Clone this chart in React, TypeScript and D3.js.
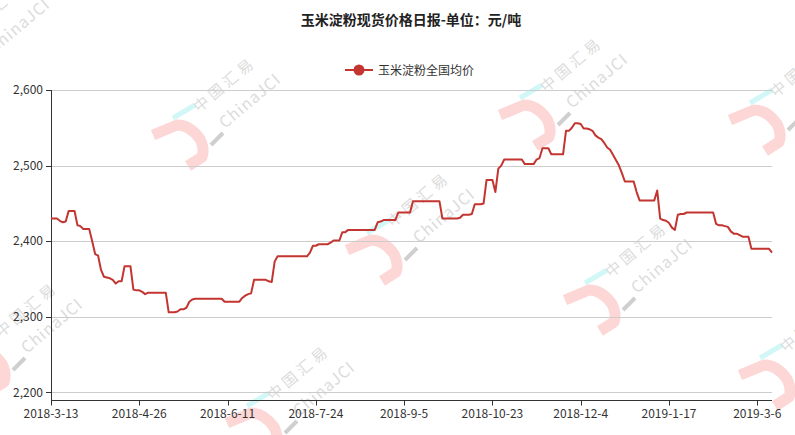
import { useEffect, useRef } from 'react';
import { select, scaleLinear, line, format } from 'd3';

// daily national average price of corn starch (yuan / ton), one value per trading day
const prices = [
  2430, 2430, 2430, 2427, 2425, 2426, 2440, 2440, 2440, 2421,
  2420, 2416, 2416, 2416, 2400, 2383, 2381, 2362, 2353, 2352,
  2351, 2349, 2344, 2347, 2347, 2367, 2367, 2367, 2336, 2335,
  2335, 2333, 2330, 2332, 2332, 2332, 2332, 2332, 2332, 2332,
  2306, 2306, 2306, 2307, 2310, 2310, 2312, 2320, 2323, 2324,
  2324, 2324, 2324, 2324, 2324, 2324, 2324, 2324, 2324, 2320,
  2320, 2320, 2320, 2320, 2320, 2325, 2328, 2330, 2331, 2349,
  2349, 2349, 2349, 2349, 2347, 2346, 2373, 2380, 2380, 2380,
  2380, 2380, 2380, 2380, 2380, 2380, 2380, 2380, 2385, 2394,
  2394, 2396, 2396, 2396, 2396, 2398, 2401, 2401, 2401, 2412,
  2412, 2415, 2415, 2415, 2415, 2415, 2415, 2415, 2415, 2415,
  2415, 2425, 2426, 2428, 2428, 2428, 2428, 2428, 2438, 2438,
  2438, 2438, 2438, 2453, 2453, 2453, 2453, 2453, 2453, 2453,
  2453, 2453, 2453, 2430, 2430, 2430, 2430, 2430, 2430, 2431,
  2435, 2435, 2435, 2436, 2449, 2449, 2449, 2450, 2481, 2481,
  2481, 2465, 2496, 2500, 2508, 2508, 2508, 2508, 2508, 2508,
  2508, 2502, 2502, 2502, 2502, 2508, 2510, 2523, 2523, 2523,
  2515, 2515, 2515, 2515, 2515, 2546, 2546, 2550, 2556, 2556,
  2555, 2549, 2549, 2548, 2546, 2540, 2537, 2535, 2530, 2524,
  2521, 2514, 2507, 2500, 2490, 2479, 2479, 2479, 2479, 2465,
  2454, 2454, 2454, 2454, 2454, 2454, 2467, 2430, 2428, 2427,
  2424, 2418, 2415, 2435, 2436, 2436, 2438, 2438, 2438, 2438,
  2438, 2438, 2438, 2438, 2438, 2438, 2423, 2421, 2421, 2420,
  2419, 2413, 2410, 2410, 2408, 2406, 2406, 2406, 2390, 2390,
  2390, 2390, 2390, 2390, 2390, 2385,
];

// category labels shown on the x axis (every 30th trading day)
const dateLabels = [
  '2018-3-13', '2018-4-26', '2018-6-11', '2018-7-24', '2018-9-5',
  '2018-10-23', '2018-12-4', '2019-1-17', '2019-3-6',
];
const labelInterval = 30;

const yTicks = [2200, 2300, 2400, 2500, 2600];
const yMin = 2190;
const yMax = 2600;

const title = '玉米淀粉现货价格日报-单位：元/吨';
const seriesName = '玉米淀粉全国均价';

// watermark anchor points (top-left of the pink hook)
const watermarks = [
  [153, 125], [347, 240], [227, 413], [-45, 350], [500, 105],
  [730, 110], [565, 290], [740, 365], [-78, 50],
];

const W = 795, H = 435;
const margin = { top: 90, right: 23, bottom: 35, left: 51 };
const FONT = '"Microsoft YaHei", "Noto Sans CJK SC", sans-serif';
const RED = '#c23531';

const App = () => {
  const ref = useRef<SVGSVGElement>(null);

  useEffect(() => {
    const svg = select(ref.current);
    svg.selectAll('*').remove();

    const x = scaleLinear()
      .domain([0, prices.length - 1])
      .range([margin.left, W - margin.right]);
    const y = scaleLinear().domain([yMin, yMax]).range([H - margin.bottom, margin.top]);

    // watermarks
    const wm = svg.append('g').attr('class', 'watermarks');
    watermarks.forEach(([wx, wy]) => {
      const g = wm.append('g').attr('transform', `translate(${wx},${wy})`);
      g.append('path')
        .attr('d', 'M0,10 L24,0 Q37,0 47,14 Q52,24 49,32 L35,41')
        .attr('fill', 'none')
        .attr('stroke', '#fdd6d6')
        .attr('stroke-width', 11)
        .attr('stroke-linejoin', 'round');
      g.append('line')
        .attr('x1', 20).attr('y1', -7).attr('x2', 42).attr('y2', -20)
        .attr('stroke', '#d2f7f7').attr('stroke-width', 5);
      g.append('line')
        .attr('x1', 58).attr('y1', 20).attr('x2', 70).attr('y2', 8)
        .attr('stroke', '#cfcfcf').attr('stroke-width', 4);
      g.append('text')
        .attr('transform', 'translate(46,-12) rotate(-40)')
        .attr('font-family', FONT).attr('font-size', 15)
        .attr('letter-spacing', 4)
        .attr('fill', '#dcdcdc')
        .text('中国汇易');
      g.append('text')
        .attr('transform', 'translate(72,4) rotate(-40)')
        .attr('font-family', FONT).attr('font-size', 16)
        .attr('letter-spacing', 1)
        .attr('fill', '#dcdcdc')
        .text('ChinaJCI');
    });

    // title
    svg.append('text')
      .attr('x', 411).attr('y', 25)
      .attr('text-anchor', 'middle')
      .attr('font-family', FONT).attr('font-size', 14).attr('font-weight', 'bold')
      .attr('fill', '#222')
      .text(title);

    // legend
    const lg = svg.append('g').attr('transform', 'translate(345,70)');
    lg.append('line').attr('x1', 0).attr('x2', 28).attr('y1', 0).attr('y2', 0)
      .attr('stroke', RED).attr('stroke-width', 2);
    lg.append('circle').attr('cx', 14).attr('cy', 0).attr('r', 5.5).attr('fill', RED);
    lg.append('text').attr('x', 33).attr('y', 4.5)
      .attr('font-family', FONT).attr('font-size', 12).attr('fill', '#333')
      .text(seriesName);

    // grid lines
    svg.append('g').selectAll('line').data(yTicks).enter().append('line')
      .attr('x1', margin.left).attr('x2', W - margin.right)
      .attr('y1', d => Math.round(y(d)) + 0.5).attr('y2', d => Math.round(y(d)) + 0.5)
      .attr('stroke', '#ccc').attr('stroke-width', 1);

    // y axis
    const ya = svg.append('g');
    ya.append('line')
      .attr('x1', margin.left + 0.5).attr('x2', margin.left + 0.5)
      .attr('y1', margin.top).attr('y2', H - margin.bottom)
      .attr('stroke', '#333');
    ya.selectAll('line.tick').data(yTicks).enter().append('line')
      .attr('class', 'tick')
      .attr('x1', margin.left - 5).attr('x2', margin.left)
      .attr('y1', d => Math.round(y(d)) + 0.5).attr('y2', d => Math.round(y(d)) + 0.5)
      .attr('stroke', '#333');
    ya.selectAll('text').data(yTicks).enter().append('text')
      .attr('x', margin.left - 8).attr('y', d => y(d))
      .attr('dy', '0.35em')
      .attr('text-anchor', 'end')
      .attr('font-family', FONT).attr('font-size', 12).attr('fill', '#333')
      .text(d => format(',')(d));

    // x axis
    const xa = svg.append('g');
    const base = Math.round(y(yMin)) + 0.5;
    xa.append('line')
      .attr('x1', margin.left).attr('x2', W - margin.right)
      .attr('y1', base).attr('y2', base)
      .attr('stroke', '#333');
    xa.selectAll('line.tick').data(dateLabels).enter().append('line')
      .attr('class', 'tick')
      .attr('x1', (d, i) => Math.round(x(i * labelInterval)) + 0.5)
      .attr('x2', (d, i) => Math.round(x(i * labelInterval)) + 0.5)
      .attr('y1', base).attr('y2', base + 5)
      .attr('stroke', '#333');
    xa.selectAll('text').data(dateLabels).enter().append('text')
      .attr('x', (d, i) => x(i * labelInterval)).attr('y', base + 17)
      .attr('text-anchor', 'middle')
      .attr('font-family', FONT).attr('font-size', 12).attr('fill', '#333')
      .text(d => d);

    // price line
    const path = line<number>()
      .x((d, i) => x(i))
      .y(d => y(d));
    svg.append('path')
      .datum(prices)
      .attr('d', path)
      .attr('fill', 'none')
      .attr('stroke', RED)
      .attr('stroke-width', 2)
      .attr('stroke-linejoin', 'round');
  }, []);

  return (
    <div style={{ position: 'absolute', left: 0, top: 0, background: '#fff' }}>
      <svg ref={ref} width={W} height={H} />
    </div>
  );
};

export default App;
